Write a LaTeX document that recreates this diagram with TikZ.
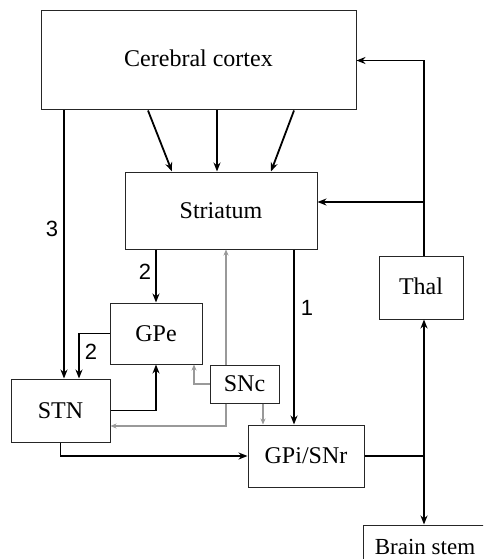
\documentclass[tikz,border=0pt]{standalone}
\usepackage{fontspec}
\setmainfont{Liberation Serif}
\newfontfamily\numfont{Liberation Sans}
\usetikzlibrary{arrows.meta,calc}
\begin{document}
\begin{tikzpicture}[x=1pt,y=-1pt,
  box/.style={draw=black!85,line width=1pt,inner sep=0pt,font=\fontsize{24}{28}\selectfont},
  blk/.style={line width=1.8pt,-{Stealth[length=9pt,width=7pt]}},
  gry/.style={draw=black!40,line width=1.2pt,-{Stealth[length=6pt,width=5pt]}},
  num/.style={font=\numfont\fontsize{22}{26}\selectfont,inner sep=0pt}]
\useasboundingbox (0,0) rectangle (483,559);
\clip (0,0) rectangle (483,559);
\node[box,minimum width=315pt,minimum height=99pt] (cortex) at (198.5,60.5) {\raisebox{5pt}{Cerebral cortex}};
\node[box,minimum width=192pt,minimum height=77pt] (striatum) at (221,210.5) {Striatum};
\node[box,minimum width=92pt,minimum height=61pt] (gpe) at (156,333.5) {GPe};
\node[box,minimum width=99pt,minimum height=63pt] (stn) at (60.5,410.5) {STN};
\node[box,minimum width=69pt,minimum height=38pt] (snc) at (244.5,384) {SNc};
\node[box,minimum width=116pt,minimum height=62pt] (gpi) at (306,456) {GPi/SNr};
\node[box,minimum width=84pt,minimum height=63pt] (thal) at (421,287.5) {\raisebox{3pt}{Thal}};
\node[box,minimum width=124pt,minimum height=50pt,font=\fontsize{23}{26}\selectfont] (brainstem) at (425,550) {\raisebox{6pt}{Brain stem}};
\coordinate (vx) at (424,0);
\coordinate (l3) at (64,0);
\coordinate (b1) at (424,202);
% cortex -> striatum
\draw[blk] ([xshift=-50.5pt]cortex.south) -- ([xshift=-49pt]striatum.north);
\draw[blk] ([xshift=18.5pt]cortex.south) -- ([xshift=-4pt]striatum.north);
\draw[blk] ([xshift=95.5pt]cortex.south) -- ([xshift=50pt]striatum.north);
% thal -> cortex, striatum
\draw[blk] (thal.north -| vx) |- (cortex.east);
\draw[blk] (b1) -- (b1 -| striatum.east);
% thal <-> brain stem
\draw[line width=1.8pt,{Stealth[length=9pt,width=7pt]}-{Stealth[length=9pt,width=7pt]}] (thal.south -| vx) -- (brainstem.north -| vx);
\draw[line width=1.8pt] (gpi.east) -- (gpi.east -| vx);
% cortex -> STN (3)
\draw[blk] (cortex.south -| l3) -- (stn.north -| l3);
\node[num] (n3) at (52,229) {3};
% striatum -> GPe (2)
\draw[blk] (striatum.south -| gpe.north) -- (gpe.north);
\node[num] (n2a) at (145,272) {2};
% GPe -> STN (2)
\draw[blk] (gpe.west) -| ([xshift=18.5pt]stn.north);
\node[num] (n2b) at (91,352) {2};
% STN -> GPe
\draw[blk] (stn.east) -| (gpe.south);
% striatum -> GPi (1)
\draw[blk] ([xshift=-12pt]gpi.north |- striatum.south) -- ([xshift=-12pt]gpi.north);
\node[num] (n1) at (307,308) {1};
% STN -> GPi
\draw[blk] (stn.south) |- (gpi.west);
% SNc gray
\draw[gry] (snc.west) -| ([xshift=38pt]gpe.south);
\draw[gry] ([xshift=-18.5pt]snc.north) -- ([xshift=-18.5pt]snc.north |- striatum.south);
\draw[gry] ([xshift=-18.5pt]snc.south) |- ([yshift=-15.5pt]stn.east);
\draw[gry] ([xshift=18.5pt]snc.south) -- ([xshift=18.5pt]snc.south |- gpi.north);
\end{tikzpicture}
\end{document}
